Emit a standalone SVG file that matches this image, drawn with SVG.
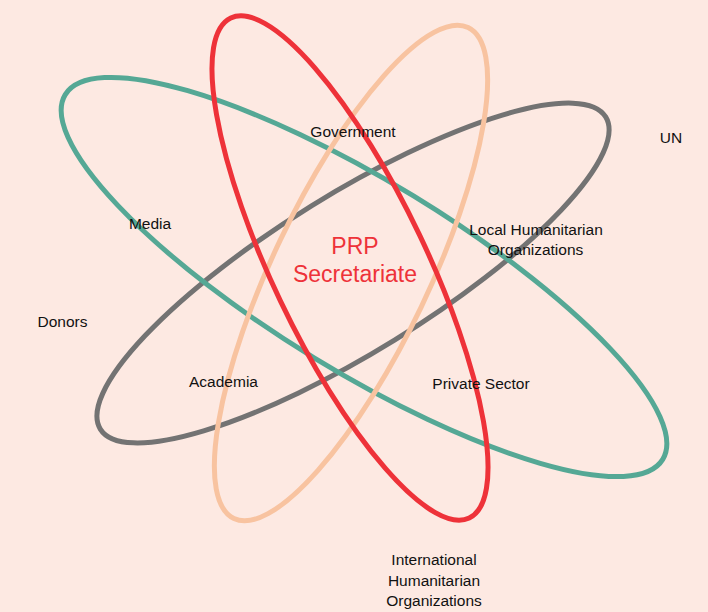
<svg xmlns="http://www.w3.org/2000/svg" width="708" height="612" viewBox="0 0 708 612">
<style>
.ring{fill:none;stroke-width:5}
.lbl{font-family:"Liberation Sans",Arial,sans-serif;font-size:15.5px;fill:#111;text-anchor:middle}
.title{font-family:"Liberation Sans",Arial,sans-serif;font-size:23px;fill:#EE3239;text-anchor:middle}
</style>
<rect x="0" y="0" width="708" height="612" fill="#FDE9E2"/>
<g id="rings">
<g id="ring-gray"><ellipse class="ring" stroke="#737373" cx="353" cy="273" rx="297" ry="79" transform="rotate(-31.7 353 273)"/></g>
<g id="ring-teal"><ellipse class="ring" stroke="#55A895" cx="364" cy="277" rx="350" ry="95" transform="rotate(31.4 364 277)"/></g>
<g id="ring-peach"><ellipse class="ring" stroke="#F8C3A0" cx="351" cy="273" rx="272" ry="78" transform="rotate(-64.5 351 273)"/></g>
<g id="ring-red"><ellipse class="ring" stroke="#EE3239" cx="350" cy="268" rx="277" ry="77" transform="rotate(64.5 350 268)"/></g>
</g>
<g id="prp"><text class="title" x="355" y="254">PRP</text><text class="title" x="355" y="282">Secretariate</text></g>
<g id="government"><text class="lbl" x="353" y="137">Government</text></g>
<g id="un"><text class="lbl" x="671" y="142.5">UN</text></g>
<g id="media"><text class="lbl" x="150" y="228.5">Media</text></g>
<g id="local"><text class="lbl" x="536" y="235">Local Humanitarian</text><text class="lbl" x="535.5" y="255">Organizations</text></g>
<g id="donors"><text class="lbl" x="62.5" y="326.5">Donors</text></g>
<g id="academia"><text class="lbl" x="223.5" y="386.5">Academia</text></g>
<g id="private"><text class="lbl" x="481" y="388.5">Private Sector</text></g>
<g id="international"><text class="lbl" x="434" y="564.5">International</text><text class="lbl" x="434" y="585.5">Humanitarian</text><text class="lbl" x="434" y="605.5">Organizations</text></g>
</svg>
